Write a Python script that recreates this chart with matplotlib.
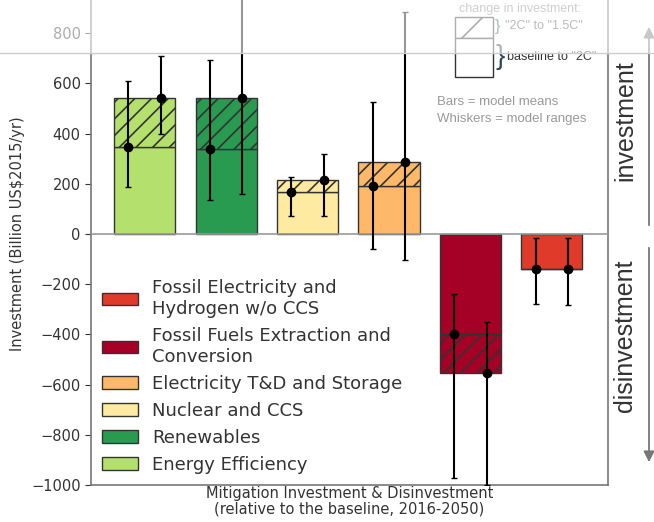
import numpy as np
import matplotlib
matplotlib.use('Agg')
import matplotlib.pyplot as plt
from matplotlib.patches import Patch, Rectangle, FancyArrowPatch
from matplotlib.lines import Line2D

# categories, left to right
cats = ['Energy Efficiency', 'Renewables', 'Nuclear and CCS',
        'Electricity T&D and Storage',
        'Fossil Fuels Extraction and\nConversion',
        'Fossil Electricity and\nHydrogen w/o CCS']
colors = ['#b4e16e', '#289b50', '#feeaa0', '#fdb969', '#a50026', '#e03a2a']

# model means (billion US$2015/yr)
mean_2c = [345, 338, 167, 190, -397, -138]
mean_15c = [540, 540, 214, 288, -552, -138]
# model ranges
lo_2c = [187, 136, 73, -60, -971, -278]
hi_2c = [610, 693, 227, 526, -238, -15]
lo_15c = [398, 159, 73, -103, -1000, -283]
hi_15c = [709, 1000, 319, 885, -349, -15]

plt.rcParams['hatch.linewidth'] = 1.2

W, H = 654, 522
fig = plt.figure(figsize=(W / 100, H / 100), dpi=100)
ax = fig.add_axes([91 / W, 37 / H, 517 / W, 502 / H])

x = np.arange(len(cats))
m2 = np.array(mean_2c)
m15 = np.array(mean_15c)
ec = '#333333'

ax.bar(x, m2, width=0.75, color=colors, edgecolor=ec, lw=1, zorder=2)
ax.bar(x, m15 - m2, bottom=m2, width=0.75, color=colors, edgecolor=ec,
       lw=1, hatch='//', zorder=2)

off = 0.2
ax.errorbar(x - off, m2, yerr=[m2 - np.array(lo_2c), np.array(hi_2c) - m2],
            fmt='o', color='k', ms=6, capsize=2, elinewidth=1.5, zorder=4)
ax.errorbar(x + off, m15, yerr=[m15 - np.array(lo_15c), np.array(hi_15c) - m15],
            fmt='o', color='k', ms=6, capsize=2, elinewidth=1.5, zorder=4)

ax.axhline(0, color='#999999', lw=1.2, zorder=3)

ax.set_xlim(-0.66, 5.69)
ax.set_ylim(-1000, 1000)
ax.set_xticks([])
ax.set_yticks(np.arange(-1000, 801, 200))
ax.tick_params(axis='y', labelsize=10.5, colors='#333333', length=4)
for s in ax.spines.values():
    s.set_color('#777777')
    s.set_linewidth(1.2)

ax.set_ylabel('Investment (Billion US$2015/yr)', fontsize=10.5, color='#333333')
ax.set_xlabel('Mitigation Investment & Disinvestment\n(relative to the baseline, 2016-2050)',
              fontsize=10.5, color='#333333', labelpad=1, linespacing=1.05)

handles = [Patch(facecolor=c, edgecolor=ec) for c in colors][::-1]
ax.legend(handles, cats[::-1], loc='lower left', bbox_to_anchor=(0.008, 0.008),
          borderaxespad=0, frameon=False, fontsize=13, labelspacing=0.5,
          handletextpad=0.75, labelcolor='#333333')

# side annotation
def fx(px):
    return px / W

def fy(py):
    return 1 - py / H

sans = 'Liberation Sans'
fig.text(fx(625), fy(121), 'investment', rotation=90, ha='center', va='center',
         fontsize=18, family=sans, color='#333333')
fig.text(fx(625), fy(336), 'disinvestment', rotation=90, ha='center', va='center',
         fontsize=18, family=sans, color='#333333')
fig.add_artist(FancyArrowPatch(
    (fx(649), fy(228)), (fx(649), fy(24)), transform=fig.transFigure,
    arrowstyle='-|>', mutation_scale=16, color='#777777', lw=1.3))
fig.add_artist(FancyArrowPatch(
    (fx(649), fy(245)), (fx(649), fy(465)), transform=fig.transFigure,
    arrowstyle='-|>', mutation_scale=16, color='#777777', lw=1.3))

# key for the hatched / plain parts
grey = '#888888'
fig.text(fx(520), fy(9), 'change in investment:', ha='center', va='center',
         fontsize=9, family=sans, color=grey)
fig.add_artist(Rectangle((fx(455), fy(38)), 38 / W, 21 / H, transform=fig.transFigure,
                         facecolor='white', edgecolor=ec, hatch='/', lw=1))
fig.add_artist(Rectangle((fx(455), fy(77)), 38 / W, 39 / H, transform=fig.transFigure,
                         facecolor='white', edgecolor=ec, lw=1))
fig.text(fx(495), fy(27), '}', ha='left', va='center', fontsize=12,
         family=sans, color='#445566')
fig.text(fx(495), fy(57), '}', ha='left', va='center', fontsize=20,
         family=sans, color='#334455')
fig.text(fx(505), fy(26), '"2C" to "1.5C"', ha='left', va='center',
         fontsize=9, family=sans, color='#555555')
fig.text(fx(507), fy(57), 'baseline to "2C"', ha='left', va='center',
         fontsize=9, family=sans, color='#333333')
fig.text(fx(437), fy(102), 'Bars = model means', ha='left', va='center',
         fontsize=9.5, family=sans, color='#999999')
fig.text(fx(437), fy(119), 'Whiskers = model ranges', ha='left', va='center',
         fontsize=9.5, family=sans, color='#999999')

# washed-out strip at the top of the screenshot
fig.add_artist(Rectangle((0, fy(53)), 1, 53 / H, transform=fig.transFigure,
                         facecolor='white', alpha=0.6, lw=0, zorder=10))
fig.add_artist(Line2D([0, 1], [fy(53), fy(53)], transform=fig.transFigure,
                      color='#cccccc', lw=1, zorder=11))

fig.savefig('out.png', dpi=100)
